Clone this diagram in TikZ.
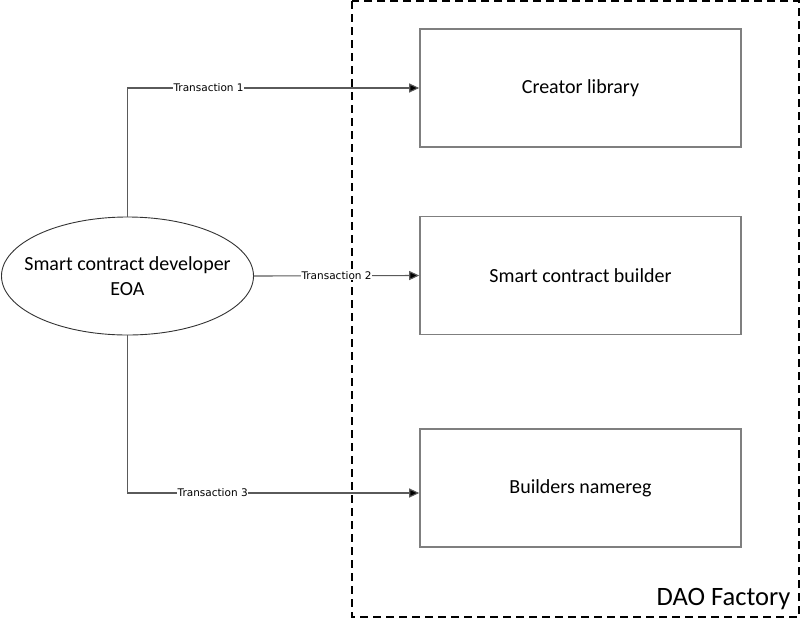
\documentclass[tikz,border=0pt]{standalone}
\usepackage{fontspec}
\setmainfont{Carlito}
\newfontfamily\lblfont{DejaVu Sans}
\usetikzlibrary{arrows.meta,shapes.geometric}
\definecolor{boxgray}{HTML}{7F7F7F}
\definecolor{linegray}{HTML}{5A5A5A}
\tikzset{
  compbox/.style={draw=boxgray, line width=1.6pt, minimum width=321pt, minimum height=118pt, inner sep=0pt, font=\fontsize{20}{24}\selectfont},
  actor/.style={ellipse, draw=black!80, line width=0.9pt, minimum width=252pt, minimum height=118pt, inner sep=0pt, align=center, font=\fontsize{20}{24.5}\selectfont},
  conn/.style={draw=linegray, line width=1.1pt, -{Triangle[length=10pt,width=9pt,fill=black]}},
  lbl/.style={fill=white, inner sep=0.5pt, text=black, font=\lblfont\fontsize{10.5}{12}\selectfont},
  frame/.style={draw=black, line width=1.1pt, dash pattern=on 8pt off 5pt}
}
\begin{document}
\begin{tikzpicture}[x=1pt,y=-1pt]
\useasboundingbox (0,0) rectangle (807,625);
\draw[frame] (352,1) rectangle (799,617);
\node[anchor=base east, font=\fontsize{26.5}{30}\selectfont] (dao) at (794,605) {DAO Factory};
\node[compbox] (b1) at (580.5,88) {Creator library};
\node[compbox] (b2) at (580.5,275.5) {Smart contract builder};
\node[compbox] (b3) at (580.5,488) {Builders namereg};
\node[actor] (e) at (127.5,276) {\makebox[0pt]{Smart contract developer}\\EOA};
\draw[conn] (e.north) |- node[lbl, pos=0.639] {Transaction 1} (b1.west);
\draw[conn] (e.east) -- node[lbl, pos=0.5] {Transaction 2} (b2.west);
\draw[conn] (e.south) |- node[lbl, pos=0.646] {Transaction 3} ([yshift=-5pt]b3.west);
\end{tikzpicture}
\end{document}
